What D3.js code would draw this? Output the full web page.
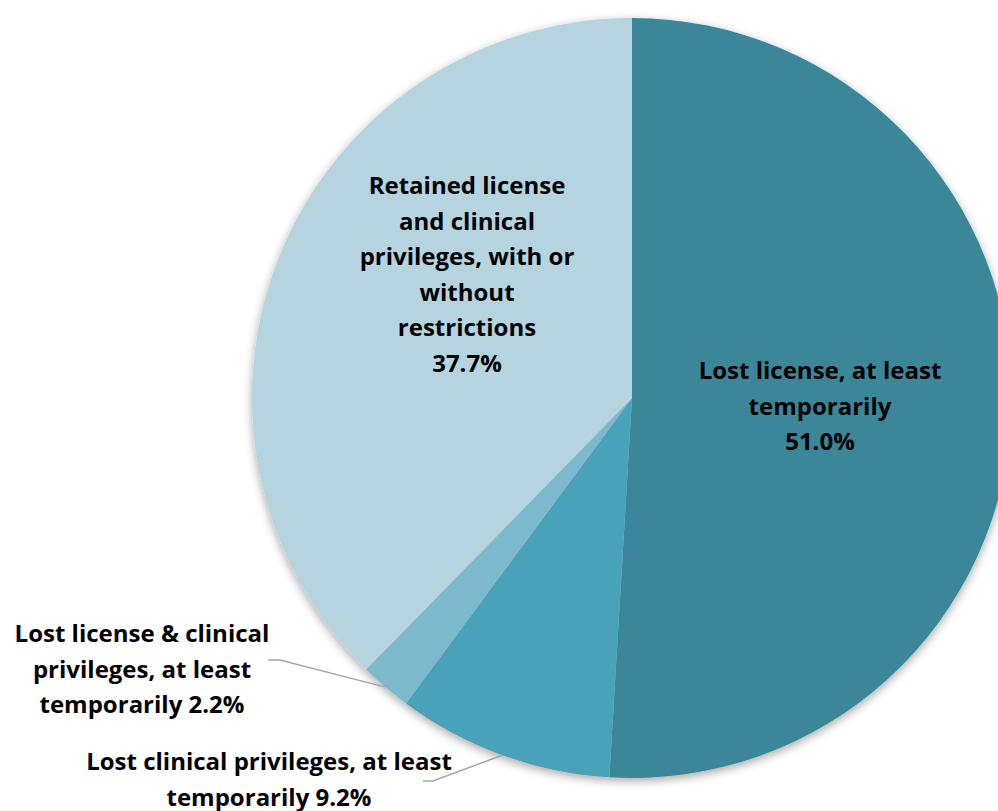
<!DOCTYPE html>
<html><head><meta charset="utf-8">
<script src="https://cdn.jsdelivr.net/npm/d3@7"></script>
<style>html,body{margin:0;padding:0;background:#fff;overflow:hidden}</style>
</head><body>
<svg id="c" width="998" height="811"></svg>
<script>
const categories = [
  "Lost license, at least temporarily",
  "Lost clinical privileges, at least temporarily",
  "Lost license & clinical privileges, at least temporarily",
  "Retained license and clinical privileges, with or without restrictions"
];
const values = [51.0, 9.2, 2.2, 37.7];
const valueLabels = ["51.0%", "9.2%", "2.2%", "37.7%"];
const labelLines = [
  ["Lost license, at least", "temporarily", "51.0%"],
  ["Lost clinical privileges, at least", "temporarily 9.2%"],
  ["Lost license & clinical", "privileges, at least", "temporarily 2.2%"],
  ["Retained license", "and clinical", "privileges, with or", "without", "restrictions", "37.7%"]
];
const colors = ["#3a8799", "#48a2ba", "#7cb9cd", "#b5d4e0"];

const svg = d3.select("#c");
const cx = 632, cy = 398, R = 380;
const defs = svg.append("defs");
const f = defs.append("filter").attr("id","sh").attr("x","-20%").attr("y","-20%").attr("width","140%").attr("height","140%");
f.append("feDropShadow").attr("dx",0).attr("dy",3).attr("stdDeviation",5).attr("flood-color","#000").attr("flood-opacity",0.35);

const pie = d3.pie().sort(null).value(d => d);
const arcs = pie(values);
const arc = d3.arc().innerRadius(0).outerRadius(R);
const g = svg.append("g").attr("transform", `translate(${cx},${cy})`);
const pg = g.append("g").attr("filter","url(#sh)");
pg.selectAll("path").data(arcs).join("path")
  .attr("d", arc).attr("fill", (d,i) => colors[i]);

const font = "'Open Sans', sans-serif";
const fs = 24, lh = 35.5;
// label anchors: [x, first baseline] in page coords
const anchors = [[820, 379], [269, 770], [142, 642], [467, 194]];
labelLines.forEach((lines, i) => {
  const t = svg.append("text").attr("text-anchor","middle")
    .attr("font-family", font).attr("font-weight", "bold").attr("font-size", fs).attr("fill","#000");
  lines.forEach((l, j) => {
    t.append("tspan").attr("x", anchors[i][0]).attr("y", anchors[i][1] + j*lh).text(l);
  });
});

// leader lines for outside labels
function leader(i, elbow, end) {
  const a = (arcs[i].startAngle + arcs[i].endAngle)/2;
  const p = [cx + R*Math.sin(a), cy - R*Math.cos(a)];
  svg.append("polyline")
    .attr("points", [p, elbow, end].map(q => q.join(",")).join(" "))
    .attr("fill","none").attr("stroke","#a6a6a6").attr("stroke-width",1.5);
}
leader(2, [280, 660], [268, 660]);
leader(1, [433, 781], [423, 781]);
</script>
</body></html>
